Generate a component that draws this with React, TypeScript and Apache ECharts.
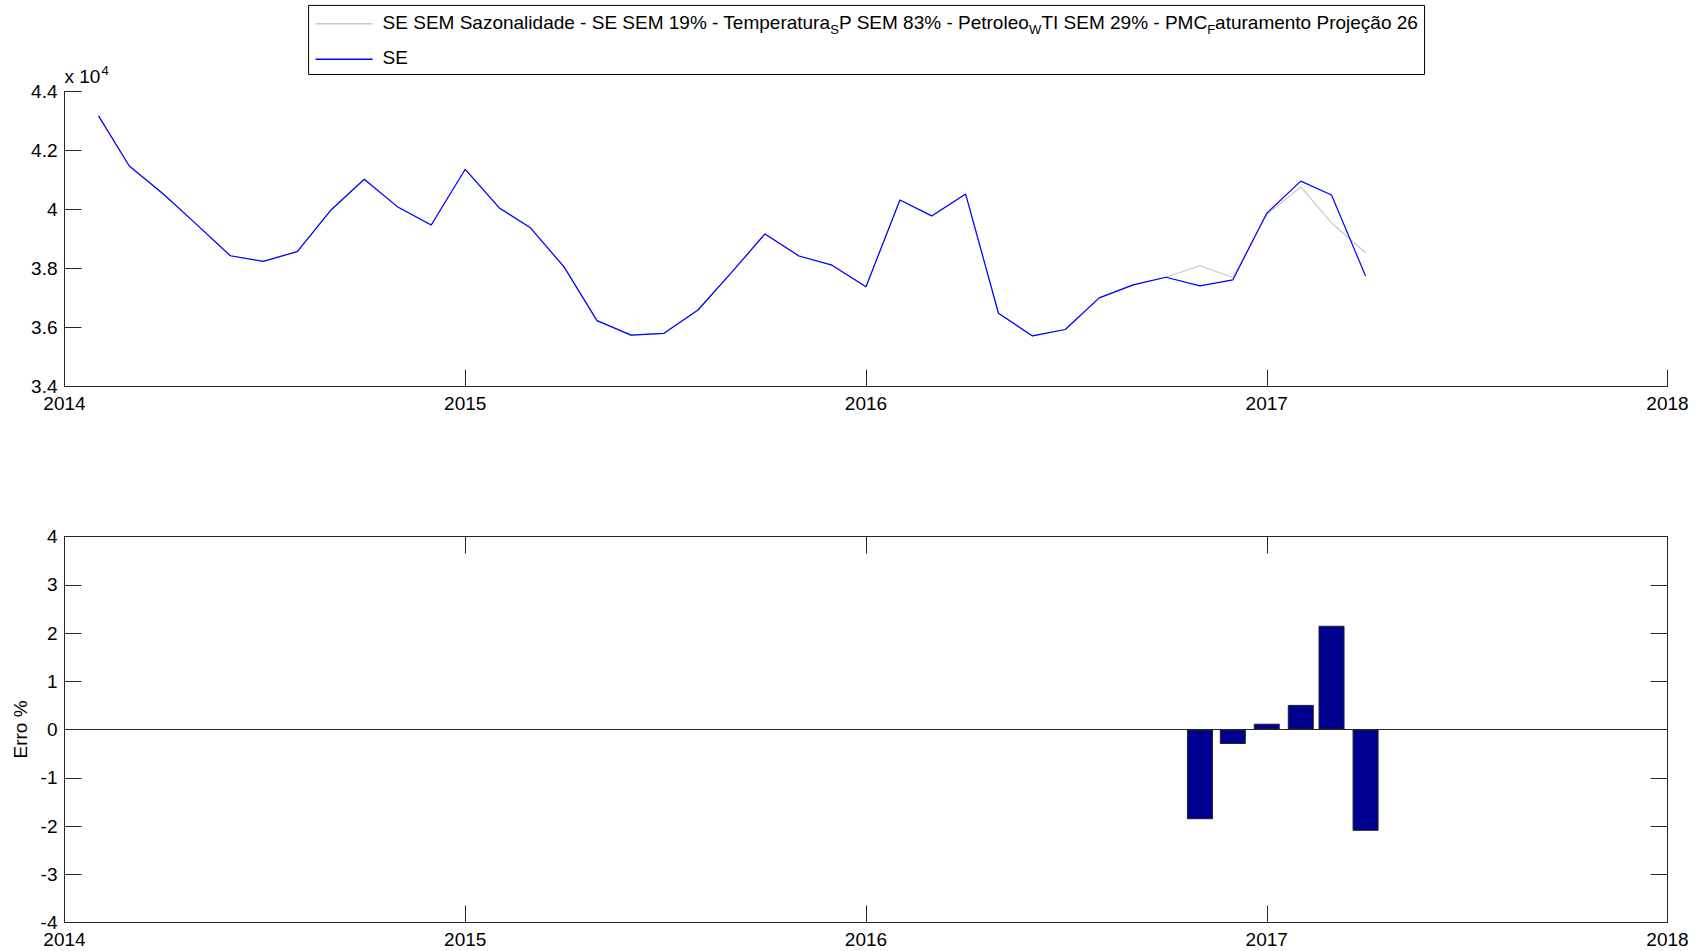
import React, { useEffect, useRef } from "react";
import * as echarts from "echarts";

// Monthly observations (first day of each month)
const months = [
  "2014-02", "2014-03", "2014-04", "2014-05", "2014-06", "2014-07", "2014-08", "2014-09", "2014-10", "2014-11", "2014-12",
  "2015-01", "2015-02", "2015-03", "2015-04", "2015-05", "2015-06", "2015-07", "2015-08", "2015-09", "2015-10", "2015-11", "2015-12",
  "2016-01", "2016-02", "2016-03", "2016-04", "2016-05", "2016-06", "2016-07", "2016-08", "2016-09", "2016-10", "2016-11", "2016-12",
  "2017-01", "2017-02", "2017-03", "2017-04",
];

// Observed series "SE"
const seValues = [
  43180, 41480, 40530, 39510, 38440, 38250, 38580, 40000, 41030, 40080, 39480,
  41370, 40060, 39400, 38060, 36240, 35750, 35810, 36600, 37890, 39180, 38430, 38120,
  37390, 40330, 39790, 40530, 36490, 35720, 35940, 37010, 37450, 37710, 37420, 37620,
  39880, 40970, 40500, 37750,
];

// Projection without seasonality (coincides with the observed data up to Oct/2016)
const projValues = [
  43180, 41480, 40530, 39510, 38440, 38250, 38580, 40000, 41030, 40080, 39480,
  41370, 40060, 39400, 38060, 36240, 35750, 35810, 36600, 37890, 39180, 38430, 38120,
  37390, 40330, 39790, 40530, 36490, 35720, 35940, 37010, 37450, 37710, 38100, 37700,
  39840, 40770, 39550, 38540,
];

// Percentage error of the projection
const errorMonths = ["2016-11", "2016-12", "2017-01", "2017-02", "2017-03", "2017-04"];
const errorValues = [-1.86, -0.3, 0.12, 0.51, 2.15, -2.1];

const yearTicks = [2014, 2018];
const seriesNames = [
  "SE SEM Sazonalidade - SE SEM 19% - Temperatura_SP SEM 83% - Petroleo_WTI SEM 29% - PMC_Faturamento Projeção 26",
  "SE",
];

// Convert "YYYY-MM" into a fractional year so that year ticks fall on Jan 1st
function toYear(m: string): number {
  const [y, mo] = m.split("-").map(Number);
  const start = Date.UTC(y, 0, 1);
  const end = Date.UTC(y + 1, 0, 1);
  return y + (Date.UTC(y, mo - 1, 1) - start) / (end - start);
}

// TeX-like "_X" subscripts rendered with rich text
function legendRich(name: string): string {
  const parts = name.split(/_(.)/);
  return parts
    .map((p, i) => {
      if (!p) return "";
      if (i % 2 === 1) return `{s|${p}}`;
      return `{${i === 0 ? "m0" : "m"}|${p}}`;
    })
    .join("");
}

const FONT = "'Liberation Sans', Arial, Helvetica, sans-serif";
const AXIS = "#262626";
const TICK_LEN = 17;

function xAxisDef(gridIndex: number, position: "top" | "bottom", labels: boolean) {
  return {
    type: "value",
    gridIndex,
    position,
    min: yearTicks[0],
    max: yearTicks[1],
    interval: 1,
    axisLine: { show: true, onZero: false, lineStyle: { color: AXIS, width: 1 } },
    axisTick: { show: true, inside: true, length: TICK_LEN, lineStyle: { color: AXIS, width: 1 } },
    axisLabel: {
      show: labels,
      formatter: (v: number) => String(v),
      fontSize: 19,
      lineHeight: 19,
      color: "#000",
      margin: 7.5,
      fontFamily: FONT,
    },
    splitLine: { show: false },
  };
}

export default function App() {
  const ref = useRef<HTMLDivElement>(null);

  useEffect(() => {
    if (!ref.current) return;
    const chart = echarts.init(ref.current, null, { renderer: "svg" });

    const option = {
      animation: false,
      backgroundColor: "#fff",
      textStyle: { fontFamily: FONT },
      legend: {
        data: seriesNames,
        orient: "vertical",
        left: 308.6,
        top: 5.4,
        padding: [7.3, 6.7, 7.3, 7],
        itemGap: 12.5,
        itemWidth: 57,
        itemHeight: 1.5,
        icon: "rect",
        borderColor: "#000",
        borderWidth: 1,
        selectedMode: false,
        formatter: (name: string) => legendRich(name),
        textStyle: {
          fontFamily: FONT,
          fontSize: 19,
          color: "#000",
          rich: {
            m: { fontSize: 19, lineHeight: 22, verticalAlign: "top", fontFamily: FONT, color: "#000" },
            m0: { fontSize: 19, lineHeight: 22, verticalAlign: "top", padding: [0, 0, 0, 5], fontFamily: FONT, color: "#000" },
            s: { fontSize: 13, lineHeight: 14, verticalAlign: "top", padding: [10, 0, 0, 0], fontFamily: FONT, color: "#000" },
          },
        },
      },
      grid: [
        { left: 64.5, right: 36.5, top: 91.7, height: 295 },
        { left: 64.5, right: 36.5, top: 536.5, height: 386 },
      ],
      xAxis: [xAxisDef(0, "bottom", true), xAxisDef(1, "bottom", true), xAxisDef(1, "top", false)],
      yAxis: [
        {
          type: "value",
          gridIndex: 0,
          position: "left",
          min: 34000,
          max: 44000,
          interval: 2000,
          name: "{a|x 10}{b|4}",
          nameLocation: "end",
          nameGap: 5,
          nameTextStyle: {
            align: "left",
            verticalAlign: "bottom",
            rich: {
              a: { fontSize: 19, lineHeight: 23, padding: [3, 0, 0, 0], verticalAlign: "top", color: "#000", fontFamily: FONT },
              b: { fontSize: 13, lineHeight: 13, verticalAlign: "top", padding: [0, 0, 0, 1], color: "#000", fontFamily: FONT },
            },
          },
          axisLine: { show: true, onZero: false, lineStyle: { color: AXIS, width: 1 } },
          axisTick: { show: true, inside: true, length: TICK_LEN, lineStyle: { color: AXIS, width: 1 } },
          axisLabel: {
            formatter: (v: number) => String(+(v / 10000).toFixed(1)),
            fontSize: 19,
            lineHeight: 14,
            color: "#000",
            margin: 7,
            fontFamily: FONT,
          },
          splitLine: { show: false },
        },
        {
          type: "value",
          gridIndex: 1,
          position: "left",
          min: -4,
          max: 4,
          interval: 1,
          name: "Erro %",
          nameLocation: "middle",
          nameGap: 35,
          nameTextStyle: { fontSize: 19, color: "#000", fontFamily: FONT },
          axisLine: { show: true, onZero: false, lineStyle: { color: AXIS, width: 1 } },
          axisTick: { show: true, inside: true, length: TICK_LEN, lineStyle: { color: AXIS, width: 1 } },
          axisLabel: { fontSize: 19, lineHeight: 14, color: "#000", margin: 7, fontFamily: FONT },
          splitLine: { show: false },
        },
        {
          type: "value",
          gridIndex: 1,
          position: "right",
          min: -4,
          max: 4,
          interval: 1,
          axisLine: { show: true, onZero: false, lineStyle: { color: AXIS, width: 1 } },
          axisTick: { show: true, inside: true, length: TICK_LEN, lineStyle: { color: AXIS, width: 1 } },
          axisLabel: { show: false },
          splitLine: { show: false },
        },
      ],
      series: [
        {
          name: seriesNames[0],
          type: "line",
          xAxisIndex: 0,
          yAxisIndex: 0,
          data: months.map((m, i) => [toYear(m), projValues[i]]),
          symbol: "none",
          lineStyle: { color: "#c8c8c8", width: 1.2 },
          itemStyle: { color: "#c8c8c8" },
          z: 2,
        },
        {
          name: seriesNames[1],
          type: "line",
          xAxisIndex: 0,
          yAxisIndex: 0,
          data: months.map((m, i) => [toYear(m), seValues[i]]),
          symbol: "none",
          lineStyle: { color: "#0000ff", width: 1.2 },
          itemStyle: { color: "#0000ff" },
          z: 3,
        },
        {
          name: "Erro",
          type: "bar",
          xAxisIndex: 1,
          yAxisIndex: 1,
          data: errorMonths.map((m, i) => [toYear(m), errorValues[i]]),
          barWidth: 26,
          itemStyle: { color: "#000090", borderColor: "#222", borderWidth: 1 },
          markLine: {
            silent: true,
            symbol: ["none", "none"],
            label: { show: false },
            lineStyle: { color: AXIS, width: 1, type: "solid" },
            data: [{ yAxis: 0 }],
          },
        },
      ],
    };

    chart.setOption(option as any);
    return () => chart.dispose();
  }, []);

  return (
    <div
      ref={ref}
      style={{ position: "absolute", left: 0, top: 0, width: 1704, height: 951, background: "#fff" }}
    />
  );
}
